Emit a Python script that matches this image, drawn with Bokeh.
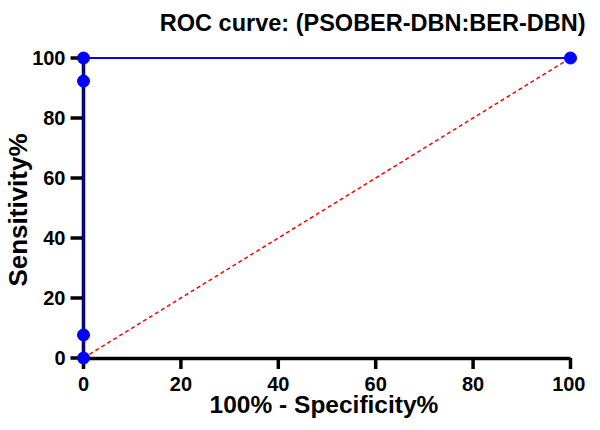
from bokeh.plotting import figure
from bokeh.models import Range1d, LinearAxis, FixedTicker, Title
from bokeh.embed import file_html
from bokeh.resources import INLINE

# ROC data (100% - Specificity%, Sensitivity%)
fpr = [0, 0, 0, 0, 100]
tpr = [0, 7.7, 92.3, 100, 100]
ref_x = [0, 100]
ref_y = [0, 100]
ticks = [0, 20, 40, 60, 80, 100]
axis_origin = [0] * len(ticks)

title_text = "ROC curve: (PSOBER-DBN:BER-DBN)"
xlabel = "100% - Specificity%"
ylabel = "Sensitivity%"

FONT = "Liberation Sans"

p = figure(frame_width=507, frame_height=317, output_backend="svg",
           toolbar_location=None,
           x_range=Range1d(-2.67, 101.44), y_range=Range1d(-3.5, 102.17),
           min_border_left=62, min_border_right=8, min_border_top=42,
           min_border_bottom=0, title=title_text)
p.outline_line_color = None
p.xgrid.visible = False
p.ygrid.visible = False
p.background_fill_color = "white"
p.border_fill_color = "white"

p.title.text_font = FONT
p.title.text_font_style = "bold"
p.title.text_font_size = "23.5px"
p.title.text_color = "black"
p.title.align = "right"
p.title.offset = -8
p.title.standoff = 14

# small empty band above the title
p.add_layout(Title(text=" ", text_font_size="7px", standoff=0), "above")

# label axes at the frame edges
for ax in (p.xaxis[0], p.yaxis[0]):
    ax.ticker = FixedTicker(ticks=ticks)
    ax.axis_line_color = None
    ax.major_tick_line_color = None
    ax.major_tick_out = 0
    ax.major_tick_in = 0
    ax.minor_tick_line_color = None
    ax.major_label_text_font = FONT
    ax.major_label_text_font_style = "bold"
    ax.major_label_text_font_size = "20px"
    ax.major_label_text_color = "black"
    ax.axis_label_text_font = FONT
    ax.axis_label_text_font_style = "bold"
    ax.axis_label_text_color = "black"
p.xaxis[0].axis_label = xlabel
p.yaxis[0].axis_label = ylabel
p.xaxis[0].axis_label_text_font_size = "24.5px"
p.yaxis[0].axis_label_text_font_size = "26px"
p.xaxis[0].major_label_standoff = 8
p.yaxis[0].major_label_standoff = 5
p.xaxis[0].axis_label_standoff = -3
p.yaxis[0].axis_label_standoff = -4

# axis lines drawn at data 0
def line_axis():
    ax = LinearAxis(fixed_location=0, bounds=(0, 100),
                    ticker=FixedTicker(ticks=ticks))
    ax.axis_line_width = 3.5
    ax.axis_line_color = "black"
    ax.major_tick_line_color = None
    ax.major_tick_out = 0
    ax.major_tick_in = 0
    ax.minor_tick_line_color = None
    ax.major_label_text_font_size = "0px"
    ax.major_label_standoff = 0
    return ax

p.add_layout(line_axis(), "above")
p.add_layout(line_axis(), "right")

# tick marks pointing outward from the axis lines
p.ray(x=axis_origin, y=ticks, length=13, length_units="screen",
      angle=180, angle_units="deg", line_color="black", line_width=3.5,
      level="overlay")
p.ray(x=ticks, y=axis_origin, length=11, length_units="screen",
      angle=-90, angle_units="deg", line_color="black", line_width=3.5,
      level="overlay")

# reference diagonal
p.line(ref_x, ref_y, line_color="red", line_dash="4 3", line_width=1.5, level="overlay")
# ROC curve
p.line(fpr, tpr, line_color="blue", line_width=1.8, level="overlay")
p.scatter(fpr, tpr, size=12, fill_color="blue", line_color="blue", level="overlay")

open("out.html", "w").write(file_html(p, INLINE))
